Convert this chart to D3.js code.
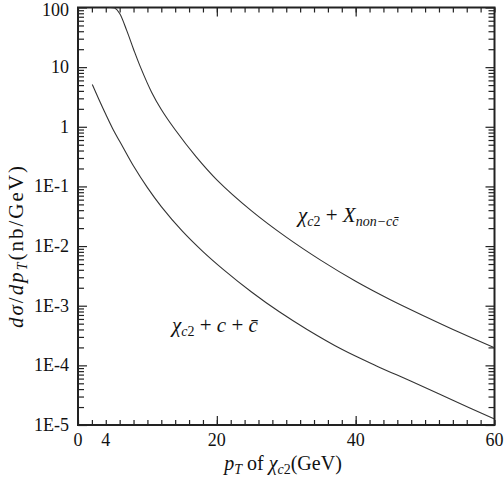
<!DOCTYPE html>
<html>
<head>
<meta charset="utf-8">
<script src="https://cdn.jsdelivr.net/npm/d3@7"></script>
<style>
  body { margin: 0; background: #fff; }
  svg { display: block; }
</style>
</head>
<body>
<svg id="chart" width="504" height="477"></svg>
<script>
// pT (GeV) and d sigma / d pT (nb/GeV)
var ptNonCC = [4.4, 5.3, 6.0, 7.0, 8.0, 9.0, 10.6, 12, 14, 17, 20, 25, 30, 35, 40, 45, 50, 55, 60];
var sigNonCC = [100, 97.7, 79.4, 41.7, 20.0, 10.0, 3.80, 1.95, 0.891, 0.316, 0.129, 0.0389, 0.0141, 0.00575, 0.00257, 0.00126, 6.61e-4, 3.55e-4, 1.97e-4];

var ptCC = [2.06, 3, 4, 5, 6.5, 8, 10, 12, 15, 18, 21, 25, 29, 33, 38, 43, 48, 54, 60];
var sigCC = [5.1, 2.9, 1.62, 0.93, 0.45, 0.22, 0.0955, 0.046, 0.018, 0.0081, 0.0040, 0.0017, 7.9e-4, 4.0e-4, 1.86e-4, 9.8e-5, 5.4e-5, 2.6e-5, 1.26e-5];

var xTickVals = [0, 4, 20, 40, 60];
var xTickLabels = ["0", "4", "20", "40", "60"];
var yTickVals = [100, 10, 1, 1e-1, 1e-2, 1e-3, 1e-4, 1e-5];
var yTickLabels = ["100", "10", "1", "1E-1", "1E-2", "1E-3", "1E-4", "1E-5"];

var FONT = '"Liberation Serif", "Times New Roman", "DejaVu Serif", serif';

var svg = d3.select('#chart')
    .attr('font-family', FONT)
    .style('font-family', FONT);

var x = d3.scaleLinear().domain([0, 60]).range([78, 494.5]);
var y = d3.scaleLog().domain([1e-5, 100]).range([425, 7.5]);

// minor ticks
var xMinor = d3.range(0, 61, 2);
var xMajor = [20, 40];
var yMinor = [];
for (var e = -5; e < 2; e++) {
    for (var m = 2; m <= 9; m++) yMinor.push(m * Math.pow(10, e));
}
var yMajor = yTickVals;

function tickAxis(axis, vals, size, transform) {
    var g = svg.append('g')
        .attr('transform', transform)
        .call(axis.tickValues(vals).tickSize(size).tickFormat(''));
    g.select('.domain').remove();
    g.selectAll('line').attr('stroke', '#222').attr('stroke-width', 1.2);
    return g;
}

tickAxis(d3.axisBottom(x), xMinor, -5, 'translate(0,425)');
tickAxis(d3.axisBottom(x), xMajor, -9, 'translate(0,425)');
tickAxis(d3.axisTop(x), xMinor, -5, 'translate(0,7.5)');
tickAxis(d3.axisTop(x), xMajor, -9, 'translate(0,7.5)');
tickAxis(d3.axisLeft(y), yMinor, -6, 'translate(78,0)');
tickAxis(d3.axisLeft(y), yMajor, -9, 'translate(78,0)');
tickAxis(d3.axisRight(y), yMinor, -6, 'translate(494.5,0)');
tickAxis(d3.axisRight(y), yMajor, -9, 'translate(494.5,0)');

// frame
svg.append('rect')
    .attr('x', 78).attr('y', 7.5)
    .attr('width', 494.5 - 78).attr('height', 425 - 7.5)
    .attr('fill', 'none')
    .attr('stroke', '#222')
    .attr('stroke-width', 2);

// tick labels
svg.append('g').selectAll('text')
    .data(xTickVals)
    .enter()
    .append('text')
    .attr('x', function(d) { return x(d); })
    .attr('y', 446)
    .attr('text-anchor', 'middle')
    .attr('font-size', 18)
    .attr('fill', '#111')
    .text(function(d, i) { return xTickLabels[i]; });

svg.append('g').selectAll('text')
    .data(yTickVals)
    .enter()
    .append('text')
    .attr('x', 69)
    .attr('y', function(d) { return Math.max(y(d) + 6, 16); })
    .attr('text-anchor', 'end')
    .attr('font-size', 18)
    .attr('fill', '#111')
    .text(function(d, i) { return yTickLabels[i]; });

// curves
svg.append('clipPath').attr('id', 'plot')
    .append('rect')
    .attr('x', 78).attr('y', 7.5)
    .attr('width', 494.5 - 78).attr('height', 425 - 7.5);

var line = d3.line()
    .x(function(d) { return x(d[0]); })
    .y(function(d) { return y(d[1]); })
    .curve(d3.curveCatmullRom.alpha(0.5));

svg.append('path')
    .datum(d3.zip(ptNonCC, sigNonCC))
    .attr('d', line)
    .attr('clip-path', 'url(#plot)')
    .attr('fill', 'none')
    .attr('stroke', '#333')
    .attr('stroke-width', 1.1);

svg.append('path')
    .datum(d3.zip(ptCC, sigCC))
    .attr('d', line)
    .attr('clip-path', 'url(#plot)')
    .attr('fill', 'none')
    .attr('stroke', '#333')
    .attr('stroke-width', 1.1);

// helper for math-like labels: parts = [text, italic, sub]
function mathText(sel, parts) {
    var lastSub = false;
    parts.forEach(function(p) {
        var t = sel.append('tspan').text(p[0]);
        if (p[1]) t.attr('font-style', 'italic');
        if (p[2]) t.attr('font-size', 14);
        if (p[2] && !lastSub) t.attr('dy', 4);
        if (!p[2] && lastSub) t.attr('dy', -4);
        lastSub = !!p[2];
    });
}

var lab1 = svg.append('text').attr('x', 298).attr('y', 222).attr('font-size', 21).attr('fill', '#111');
mathText(lab1, [['χ', 1, 0], ['c', 1, 1], ['2', 0, 1], [' + ', 0, 0], ['X', 1, 0], ['non−c', 1, 1], ['c\u0304', 1, 1]]);

var lab2 = svg.append('text').attr('x', 172).attr('y', 332).attr('font-size', 21).attr('fill', '#111');
mathText(lab2, [['χ', 1, 0], ['c', 1, 1], ['2', 0, 1], [' + ', 0, 0], ['c', 1, 0], [' + ', 0, 0], ['c\u0304', 1, 0]]);

// axis titles
var xt = svg.append('text').attr('x', 283).attr('y', 470).attr('text-anchor', 'middle').attr('font-size', 20).attr('fill', '#111');
mathText(xt, [['p', 1, 0], ['T', 1, 1], [' of ', 0, 0], ['χ', 1, 0], ['c', 1, 1], ['2', 0, 1], ['(GeV)', 0, 0]]);

var yt = svg.append('text')
    .attr('transform', 'translate(23,246) rotate(-90)')
    .attr('text-anchor', 'middle')
    .attr('font-size', 21)
    .attr('letter-spacing', 2)
    .attr('fill', '#111');
mathText(yt, [['dσ', 1, 0], ['/', 0, 0], ['dp', 1, 0], ['T', 1, 1], ['(nb/GeV)', 0, 0]]);
</script>
</body>
</html>
